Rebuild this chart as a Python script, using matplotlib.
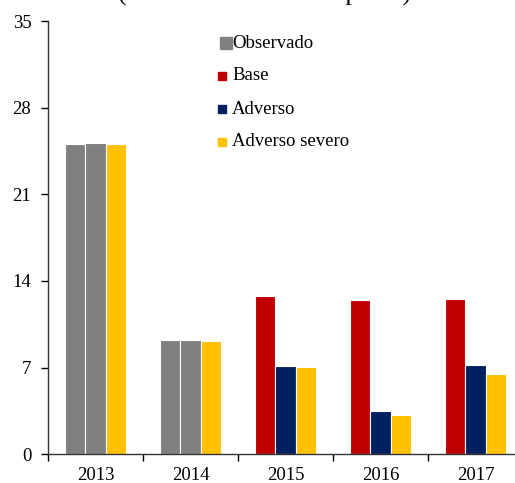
import numpy as np
import matplotlib.pyplot as plt

plt.rcParams['font.family'] = ['Liberation Serif', 'DejaVu Serif']

# Data (miles de millones de pesos)
years = ['2013', '2014', '2015', '2016', '2017']
base = [25.1, 9.2, 12.75, 12.5, 12.55]
adverso = [25.15, 9.23, 7.1, 3.5, 7.2]
adverso_severo = [25.1, 9.18, 7.03, 3.2, 6.52]
n_observado = 2  # first years are observed values

series_labels = ['Observado', 'Base', 'Adverso', 'Adverso severo']
gray = '#808080'
red = '#C00000'
navy = '#002060'
yellow = '#FFC000'

fig = plt.figure(figsize=(5.15, 4.83), dpi=100)
ax = fig.add_axes([48 / 515, 28.7 / 483, 475 / 515, 433.3 / 483])

x = np.arange(len(years))
w = 0.217
base_colors = [gray if i < n_observado else red for i in range(len(years))]
adv_colors = [gray if i < n_observado else navy for i in range(len(years))]
ax.bar(x - w, base, w, color=base_colors, edgecolor='white', linewidth=0.8)
ax.bar(x, adverso, w, color=adv_colors, edgecolor='white', linewidth=0.8)
ax.bar(x + w, adverso_severo, w, color=yellow, edgecolor='white', linewidth=0.8)

ax.set_xlim(-0.5, len(years) - 0.5)
ax.set_ylim(0, 35)
ax.set_yticks(np.arange(0, 36, 7))
ax.set_xticks(x)
ax.set_xticklabels(years)
ax.set_xticks(np.arange(-0.5, len(years), 1), minor=True)
ax.tick_params(axis='x', which='major', length=0, labelsize=13.5, pad=9)
ax.tick_params(axis='x', which='minor', length=5, width=1, direction='out')
ax.tick_params(axis='y', length=5, width=1, direction='out', labelsize=13.5, pad=7)
for s in ['top', 'right']:
    ax.spines[s].set_visible(False)
for s in ['left', 'bottom']:
    ax.spines[s].set_linewidth(1)
    ax.spines[s].set_color('#333333')

# legend drawn by hand
leg_colors = [gray, red, navy, yellow]
leg_sizes = [8, 5.5, 5.5, 5.5]
leg_xm = [226, 222, 222, 222]
leg_y = [43, 76, 109, 142]
for lab, c, ms, xm, yy in zip(series_labels, leg_colors, leg_sizes, leg_xm, leg_y):
    fig.add_artist(plt.Line2D([xm / 515], [1 - yy / 483], marker='s', markersize=ms,
                              color=c, linestyle='none', transform=fig.transFigure))
    fig.text(232 / 515, 1 - yy / 483, lab, fontsize=13.5, va='center', ha='left')

fig.text(265 / 515, 1 - 0.5 / 483, '(miles de millones de pesos)', fontsize=18.5,
         ha='center', va='baseline')

fig.savefig('out.png', dpi=100)
